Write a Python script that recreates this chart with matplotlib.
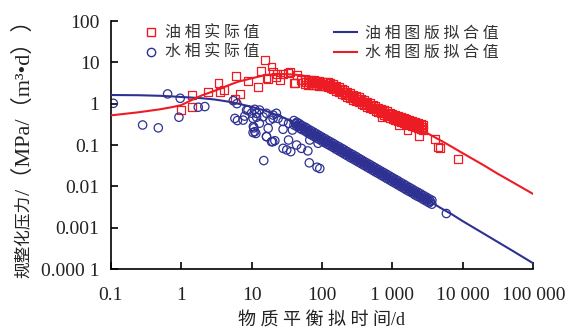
import numpy as np
import matplotlib
matplotlib.use("Agg")
import matplotlib.pyplot as plt
import matplotlib.lines as mlines

RED = "#ED1C24"
BLUE = "#2E3192"
CJK = ["Liberation Serif", "Noto Sans CJK SC"]

# oil phase measured (red squares), scattered early points + outliers
oil_x = [0.99, 1.41, 1.43, 2.42, 3.4, 3.55, 4.1, 6.0, 8.9, 6.85, 5.8, 12.2, 13.8,
         15.4, 19.2, 20.2, 17.2, 22.5, 25, 23, 35, 43.6, 40, 33, 28, 51, 41, 16.3,
         710, 1230, 1640, 2380, 4000, 4420, 4800, 8520]
oil_y = [0.70, 0.82, 1.62, 1.89, 3.1, 1.95, 2.15, 4.75, 3.55, 1.69, 1.3, 2.5, 6.3,
         11.4, 7.9, 6.0, 3.9, 4.5, 3.75, 5.3, 5.8, 4.95, 3.1, 5.6, 5.1, 3.75, 3.2, 4.1,
         0.48, 0.30, 0.23, 0.165, 0.14, 0.088, 0.085, 0.046]

# oil phase dense band: x with upper / lower edge of the cloud, plus middle row
oil_band_x = [58, 63, 69, 76, 83, 91, 100, 110, 120, 132, 145, 158, 174, 191, 209, 229,
              251, 275, 302, 331, 363, 398, 437, 479, 525, 575, 631, 692, 759, 832, 912,
              1000, 1100, 1200, 1320, 1450, 1580, 1740, 1910, 2090, 2290, 2510, 2750]
oil_band_hi = [3.9, 3.8, 3.7, 3.7, 3.6, 3.5, 3.45, 3.4, 3.3, 3.2, 2.95, 2.7, 2.5, 2.3, 2.1,
               1.95, 1.8, 1.65, 1.5, 1.42, 1.3, 1.2, 1.1, 1.03, 0.95, 0.88, 0.81, 0.76, 0.71,
               0.65, 0.61, 0.56, 0.53, 0.5, 0.47, 0.44, 0.42, 0.395, 0.375, 0.355, 0.335, 0.315, 0.30]
oil_band_lo = [2.9, 2.85, 2.8, 2.8, 2.75, 2.7, 2.65, 2.6, 2.5, 2.4, 2.25, 2.05, 1.9, 1.75, 1.6,
               1.48, 1.36, 1.25, 1.15, 1.07, 0.98, 0.91, 0.84, 0.78, 0.72, 0.67, 0.62, 0.58, 0.54,
               0.5, 0.46, 0.43, 0.405, 0.38, 0.36, 0.34, 0.32, 0.3, 0.285, 0.27, 0.255, 0.24, 0.23]
oil_mid_x = [60, 66, 72, 79, 87, 95, 105, 115, 126, 138, 151, 166, 182, 200, 219, 240, 263,
             288, 316, 347, 380, 417, 457, 501, 550, 602, 661, 724, 794, 871, 955, 1050, 1150,
             1260, 1380, 1510, 1660, 1820, 2000, 2190, 2400, 2630]
oil_mid_y = [3.33, 3.25, 3.22, 3.18, 3.11, 3.05, 3.0, 2.92, 2.82, 2.67, 2.46, 2.26, 2.1, 1.92,
             1.76, 1.63, 1.5, 1.37, 1.27, 1.18, 1.09, 1.0, 0.93, 0.86, 0.8, 0.74, 0.68, 0.64,
             0.59, 0.55, 0.51, 0.475, 0.45, 0.425, 0.4, 0.38, 0.355, 0.335, 0.32, 0.30, 0.283, 0.268]

# water phase measured (blue circles), scattered early points
wat_x = [0.109, 0.284, 0.474, 0.643, 0.97, 0.93, 1.75, 2.17, 5.5, 6.2, 5.8, 6.3, 7.6,
         8.5, 10, 11.1, 11.8, 10.6, 11.1, 11.5, 12.9, 14.9, 16.3, 17.2, 19.2, 21.4, 20.2,
         22.5, 28, 28, 31.6, 33.5, 36, 38, 43.6, 51, 63, 67, 66, 85, 93, 88,
         8, 8.9, 10.5, 11.8, 13, 14.6, 16.3, 18.2, 20.2, 23.8, 28, 33.5, 10.5, 10.8, 16.3, 20,
         5830]
wat_y = [1.02, 0.305, 0.26, 1.72, 1.35, 0.47, 0.82, 0.85, 1.18, 1.0, 0.44, 0.39, 0.40,
         0.70, 0.59, 0.73, 0.47, 0.28, 0.21, 0.19, 0.335, 0.042, 0.159, 0.254, 0.12, 0.127, 0.44,
         0.585, 0.24, 0.083, 0.076, 0.132, 0.069, 0.23, 0.1, 0.083, 0.072, 0.132, 0.037, 0.029, 0.027, 0.11,
         0.5, 0.70, 0.44, 0.58, 0.7, 0.48, 0.585, 0.40, 0.53, 0.44, 0.37, 0.335, 0.2, 0.26, 0.16, 0.12,
         0.0022]

# water phase dense band
wat_band_x = [40, 44, 48, 52, 58, 63, 69, 76, 83, 91, 100, 110, 120, 132, 145, 158, 174, 191,
              209, 229, 251, 275, 302, 331, 363, 398, 437, 479, 525, 575, 631, 692, 759, 832,
              912, 1000, 1100, 1200, 1320, 1450, 1580, 1740, 1910, 2090, 2290, 2510, 2750,
              3020, 3310, 3630]
wat_band_hi = [0.39, 0.355, 0.325, 0.295, 0.27, 0.245, 0.225, 0.205, 0.187, 0.171, 0.156, 0.142,
               0.13, 0.119, 0.109, 0.099, 0.091, 0.083, 0.076, 0.069, 0.063, 0.058, 0.053, 0.048,
               0.044, 0.040, 0.0366, 0.0335, 0.0306, 0.0279, 0.0255, 0.0233, 0.0213, 0.0195,
               0.0178, 0.0162, 0.0148, 0.0136, 0.0123, 0.0113, 0.0103, 0.0094, 0.0086, 0.0078,
               0.0072, 0.0066, 0.006, 0.0055, 0.005, 0.0046]
wat_band_lo = [0.305, 0.28, 0.255, 0.235, 0.215, 0.195, 0.178, 0.163, 0.149, 0.137, 0.124, 0.113,
               0.104, 0.095, 0.087, 0.079, 0.072, 0.066, 0.060, 0.055, 0.050, 0.046, 0.042, 0.0384,
               0.035, 0.032, 0.0292, 0.0267, 0.0244, 0.0222, 0.0204, 0.0186, 0.017, 0.0155,
               0.0142, 0.0129, 0.0118, 0.0108, 0.0098, 0.009, 0.0082, 0.0075, 0.0069, 0.0062,
               0.0057, 0.0053, 0.0048, 0.0044, 0.004, 0.0037]
wat_mid_x = [42, 46, 50, 55, 60, 66, 72, 79, 87, 95, 105, 115, 126, 138, 151, 166, 182, 200,
             219, 240, 263, 288, 316, 347, 380, 417, 457, 501, 550, 602, 661, 724, 794, 871,
             955, 1050, 1150, 1260, 1380, 1510, 1660, 1820, 2000, 2190, 2400, 2630, 2880,
             3160, 3470]
wat_mid_y = [0.329, 0.301, 0.275, 0.251, 0.229, 0.209, 0.191, 0.175, 0.160, 0.146, 0.133, 0.121,
             0.111, 0.101, 0.0927, 0.0847, 0.0773, 0.0706, 0.0645, 0.0589, 0.0538, 0.0492, 0.0450,
             0.0411, 0.0375, 0.0342, 0.0313, 0.0286, 0.0261, 0.0238, 0.0218, 0.0199, 0.0182,
             0.0166, 0.0152, 0.0138, 0.0126, 0.0115, 0.0105, 0.0096, 0.0088, 0.0080, 0.0073,
             0.0067, 0.0061, 0.0056, 0.0051, 0.0047, 0.0043]

# type-curve fits
fit_x = [0.1, 0.25, 0.5, 0.73, 1, 1.66, 2, 3, 3.73, 5, 6.45, 10, 15.5, 20, 30, 50, 70, 100, 150,
         200, 300, 500, 700, 1000, 1500, 2000, 3000, 5000, 7000, 10000, 20000, 30000, 50000, 100000]
fit_blue = [1.62, 1.6, 1.55, 1.5, 1.45, 1.38, 1.35, 1.26, 1.19, 1.1, 1.0, 0.84, 0.68, 0.58, 0.44,
            0.29, 0.21, 0.148, 0.099, 0.075, 0.05, 0.03, 0.0215, 0.015, 0.0099, 0.0074, 0.0049,
            0.0029, 0.0021, 0.00143, 0.00071, 0.00047, 0.00028, 0.000137]
fit_red = [0.52, 0.62, 0.73, 0.82, 0.92, 1.4, 1.6, 2.05, 2.36, 2.9, 3.4, 4.1, 4.9, 5.1, 5.2,
           4.9, 4.3, 3.6, 2.7, 2.1, 1.45, 0.9, 0.68, 0.5, 0.36, 0.28, 0.2, 0.125, 0.09, 0.063,
           0.032, 0.021, 0.0128, 0.0065]

x_ticks = [0.1, 1, 10, 100, 1000, 10000, 100000]
x_labels = ["0.1", "1", "10", "100", "1 000", "10 000", "100 000"]
y_ticks = [1e-4, 1e-3, 1e-2, 0.1, 1, 10, 100]
y_labels = ["0.000 1", "0.001", "0.01", "0.1", "1", "10", "100"]

fig = plt.figure(figsize=(5.69, 3.33), dpi=100)
ax = fig.add_axes([110.7 / 569, 64 / 333, 422.6 / 569, 248 / 333])

sq = dict(marker="s", s=32, facecolors="none", edgecolors=RED, linewidths=0.9, zorder=2)
ci = dict(marker="o", s=36, facecolors="none", edgecolors=BLUE, linewidths=0.9, zorder=2)
ax.scatter(oil_x, oil_y, **sq)
ax.scatter(oil_band_x, oil_band_hi, **sq)
ax.scatter(oil_band_x, oil_band_lo, **sq)
ax.scatter(oil_mid_x, oil_mid_y, **sq)
ax.scatter(wat_x, wat_y, **ci)
ax.scatter(wat_band_x, wat_band_hi, **ci)
ax.scatter(wat_band_x, wat_band_lo, **ci)
ax.scatter(wat_mid_x, wat_mid_y, **ci)
ax.plot(fit_x, fit_blue, color=BLUE, lw=1.5, zorder=3)
ax.plot(fit_x, fit_red, color=RED, lw=1.5, zorder=3)

ax.set_xscale("log")
ax.set_yscale("log")
ax.set_xlim(0.1, 100000)
ax.set_ylim(1e-4, 100)
ax.set_xticks(x_ticks)
ax.set_xticklabels(x_labels)
ax.set_yticks(y_ticks)
ax.set_yticklabels(y_labels)
ax.minorticks_off()
for s in ["top", "right"]:
    ax.spines[s].set_visible(False)
for s in ["left", "bottom"]:
    ax.spines[s].set_linewidth(1.2)
ax.tick_params(direction="in", length=5, width=1.2, labelsize=14)
ax.tick_params(axis="x", pad=13)
ax.tick_params(axis="y", pad=8)
for lab in ax.get_xticklabels() + ax.get_yticklabels():
    lab.set_family("Liberation Serif")
    lab.set_color("#222222")

legprop = {"family": "Noto Sans CJK SC", "size": 11.5}
h1 = [mlines.Line2D([], [], ls="none", marker="s", mfc="none", mec=RED, ms=6),
      mlines.Line2D([], [], ls="none", marker="o", mfc="none", mec=BLUE, ms=6)]
leg1 = ax.legend(h1, ["油 相 实 际 值", "水 相 实 际 值"], loc="upper left",
                 bbox_to_anchor=((142.7 - 110.7) / 422.6, 0.985), frameon=False, borderpad=0,
                 borderaxespad=0, handlelength=1.0, handletextpad=0.4, labelspacing=0.15,
                 prop=legprop)
for t in leg1.get_texts():
    t.set_color("#333333")
ax.add_artist(leg1)
h2 = [mlines.Line2D([], [], color=BLUE, lw=1.5), mlines.Line2D([], [], color=RED, lw=1.5)]
leg2 = ax.legend(h2, ["油 相 图 版 拟 合 值", "水 相 图 版 拟 合 值"], loc="upper left",
                 bbox_to_anchor=((334 - 110.7) / 422.6, 0.985), frameon=False, borderpad=0,
                 borderaxespad=0, handlelength=1.44, handletextpad=0.5, labelspacing=0.15,
                 prop=legprop)
for t in leg2.get_texts():
    t.set_color("#333333")

fig.text(321.7 / 569, 1 - 320.7 / 333, "物 质 平 衡 拟 时 间/d", ha="center", va="center",
         fontsize=13, family=CJK, color="#222222")
fig.text(24 / 569, (333 - 278) / 333, "规整化压力", ha="center", va="bottom",
         rotation=90, fontsize=12, family="Noto Sans CJK SC", color="#222222")
fig.text(24 / 569, (333 - 195) / 333, "/（MPa/（m³•d））", ha="center", va="bottom",
         rotation=90, fontsize=16, family=CJK, color="#222222")

fig.savefig("out.png", dpi=100)
